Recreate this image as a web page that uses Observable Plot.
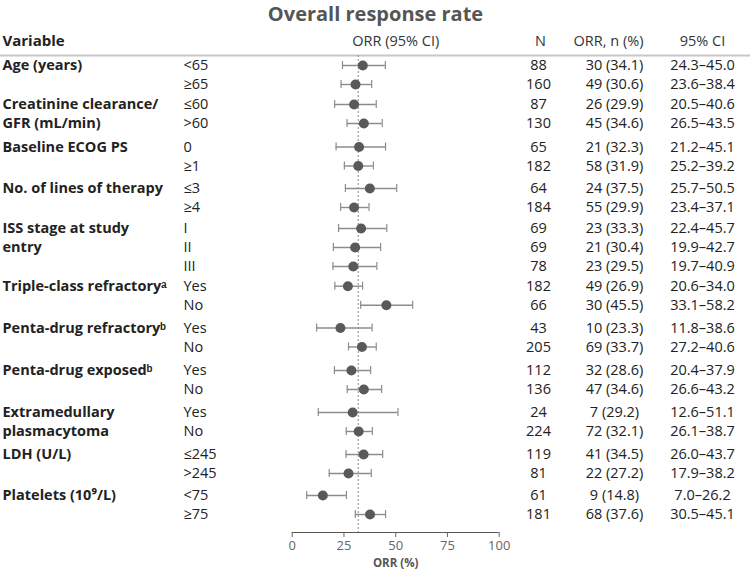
<!DOCTYPE html>
<html><head><meta charset="utf-8">
<script src="https://cdn.jsdelivr.net/npm/d3@7"></script>
<script src="https://cdn.jsdelivr.net/npm/@observablehq/plot@0.6"></script>
<style>body{margin:0;background:#fff;} svg{font-family:"Open Sans",sans-serif;}</style>
</head><body><div id="chart"></div>
<script>
// ---- data ----
const groupLabels = [
  "Age (years)",
  "Creatinine clearance/\nGFR (mL/min)",
  "Baseline ECOG PS",
  "No. of lines of therapy",
  "ISS stage at study\nentry",
  "Triple-class refractory\u1D43",
  "Penta-drug refractory\u1D47",
  "Penta-drug exposed\u1D47",
  "Extramedullary\nplasmacytoma",
  "LDH (U/L)",
  "Platelets (10\u2079/L)"
];
const groupOf   = [0,0,1,1,2,2,3,3,4,4,4,5,5,6,6,7,7,8,8,9,9,10,10];
const subgroups = ["<65","≥65","≤60",">60","0","≥1","≤3","≥4","I","II","III","Yes","No","Yes","No","Yes","No","Yes","No","≤245",">245","<75","≥75"];
const nTotal    = [88,160,87,130,65,182,64,184,69,69,78,182,66,43,205,112,136,24,224,119,81,61,181];
const nResp     = [30,49,26,45,21,58,24,55,23,21,23,49,30,10,69,32,47,7,72,41,22,9,68];
const orrPct    = [34.1,30.6,29.9,34.6,32.3,31.9,37.5,29.9,33.3,30.4,29.5,26.9,45.5,23.3,33.7,28.6,34.6,29.2,32.1,34.5,27.2,14.8,37.6];
const ciLow     = [24.3,23.6,20.5,26.5,21.2,25.2,25.7,23.4,22.4,19.9,19.7,20.6,33.1,11.8,27.2,20.4,26.6,12.6,26.1,26.0,17.9,7.0,30.5];
const ciHigh    = [45.0,38.4,40.6,43.5,45.1,39.2,50.5,37.1,45.7,42.7,40.9,34.0,58.2,38.6,40.6,37.9,43.2,51.1,38.7,43.7,38.2,26.2,45.1];
const overallORR = 31.9;
const xTicks = [0,25,50,75,100];
const title = "Overall response rate";
const axisLabel = "ORR (%)";

// ---- layout ----
const ROW = 19;                                          // row pitch (px)
const groupGap = [0,1,4.5,3.5,2,0.7,3.8,4.5,4,4,3];      // extra space before each group (px)
const cumGap = groupGap.map((_, g) => d3.sum(groupGap.slice(0, g + 1)));

const rows = subgroups.map((s, i) => ({
  sub: s, g: groupOf[i], pos: i * ROW + cumGap[groupOf[i]],
  n: nTotal[i], orr: orrPct[i], lo: ciLow[i], hi: ciHigh[i],
  resp: `${nResp[i]} (${orrPct[i].toFixed(1)})`,
  ci: `${ciLow[i].toFixed(1)}–${ciHigh[i].toFixed(1)}`
}));
const posMax = rows[rows.length - 1].pos;
const labelLines = [];
groupLabels.forEach((lab, g) => {
  const gr = rows.filter(r => r.g === g);
  lab.split("\n").forEach((line, k) => labelLines.push({text: line, pos: gr[k].pos}));
});
const cap = 4;
const txt = {frameAnchor: "left", lineAnchor: "middle", fill: "#222"};

const chart = Plot.plot({
  width: 750, height: 571,
  marginTop: 55, marginBottom: 39, marginLeft: 0, marginRight: 0,
  style: {fontFamily: "'Open Sans', sans-serif", fontSize: "14.5px", background: "#fff", color: "#222"},
  x: {domain: [0, 100], range: [291.7, 498.7]},
  y: {domain: [0, posMax], range: [65, 65 + posMax], axis: null},
  marks: [
    Plot.frame({anchor: "top", stroke: "#c8c8c8", strokeWidth: 2}),
    Plot.ruleX([overallORR], {stroke: "#8a8a8a", strokeDasharray: "2,2", strokeWidth: 1}),
    Plot.ruleY(rows, {y: "pos", x1: "lo", x2: "hi", stroke: "#8c8c8c", strokeWidth: 1.4}),
    Plot.ruleX(rows, {x: "lo", y1: d => d.pos - cap, y2: d => d.pos + cap, stroke: "#8c8c8c", strokeWidth: 1.2}),
    Plot.ruleX(rows, {x: "hi", y1: d => d.pos - cap, y2: d => d.pos + cap, stroke: "#8c8c8c", strokeWidth: 1.2}),
    Plot.dot(rows, {x: "orr", y: "pos", r: 5, fill: "#595959"}),
    Plot.ruleY([posMax], {x1: 0, x2: 100, dy: 532 - 65 - posMax, stroke: "#555", strokeWidth: 1.2}),
    Plot.axisX({ticks: xTicks, tickSize: 5, anchor: "bottom", label: null, fontSize: 13, color: "#666", tickPadding: 3}),
    Plot.text([axisLabel], {x: 50, frameAnchor: "bottom", dy: 31, lineAnchor: "middle", fontWeight: "bold", fontSize: 11.5, fill: "#555"}),
    // title and headers
    Plot.text([title], {frameAnchor: "top", dy: -41, lineAnchor: "middle", fontSize: 20, fontWeight: "bold", fill: "#555"}),
    Plot.text(["Variable"], {frameAnchor: "top-left", dx: 2, dy: -14, lineAnchor: "middle", textAnchor: "start", fontWeight: "bold", fontSize: 15, fill: "#222"}),
    Plot.text(["ORR (95% CI)"], {x: 50, frameAnchor: "top", dy: -14, lineAnchor: "middle", fill: "#333"}),
    Plot.text(["N"], {frameAnchor: "top-left", dx: 540, dy: -14, lineAnchor: "middle", textAnchor: "middle", fill: "#333"}),
    Plot.text(["ORR, n (%)"], {frameAnchor: "top-left", dx: 608, dy: -14, lineAnchor: "middle", textAnchor: "middle", fill: "#333"}),
    Plot.text(["95% CI"], {frameAnchor: "top-left", dx: 702, dy: -14, lineAnchor: "middle", textAnchor: "middle", fill: "#333"}),
    // table columns
    Plot.text(labelLines, {...txt, y: "pos", text: "text", dx: 2, textAnchor: "start", fontWeight: "bold"}),
    Plot.text(rows, {...txt, y: "pos", text: "sub", dx: 183, textAnchor: "start"}),
    Plot.text(rows, {...txt, y: "pos", text: d => String(d.n), dx: 538, textAnchor: "middle"}),
    Plot.text(rows, {...txt, y: "pos", text: "resp", dx: 614, textAnchor: "middle"}),
    Plot.text(rows, {...txt, y: "pos", text: "ci", dx: 702, textAnchor: "middle"})
  ]
});
document.getElementById("chart").appendChild(chart);
</script>
</body></html>
